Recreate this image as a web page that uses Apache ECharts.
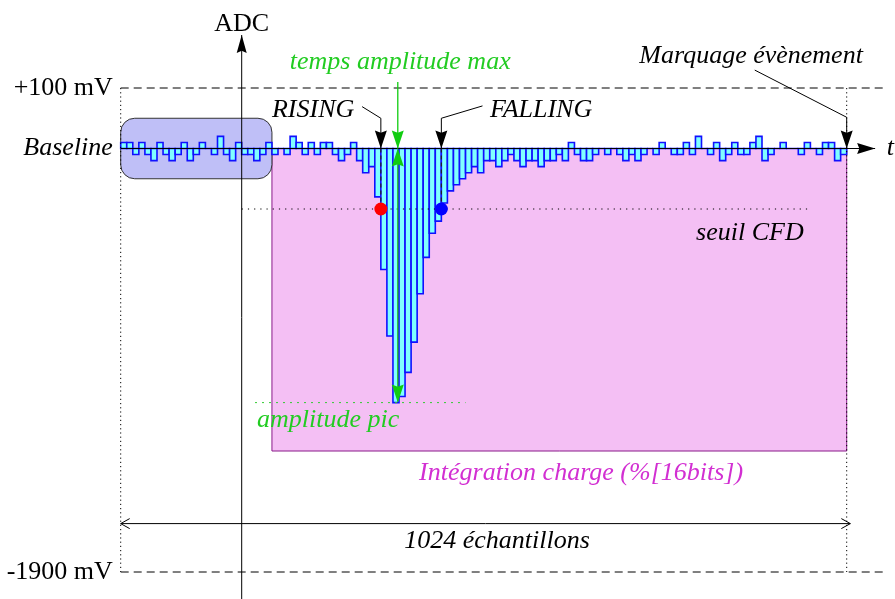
<!DOCTYPE html>
<html><head><meta charset="utf-8">
<script src="https://cdn.jsdelivr.net/npm/echarts@6/dist/echarts.min.js"></script>
<style>html,body{margin:0;padding:0;background:#fff}#c{width:895px;height:599px}</style>
</head><body><div id="c"></div>
<script>
// ---- data ----
const baselineMv = -150;            // baseline level (mV)
const stepMv = 25;                  // ADC step (mV)
const binCount = 120;               // bins drawn across the 1024 samples
// deviation of each bin from the baseline, in ADC steps
const binSteps = [
  1,1,-1,1,-1,-2,1,-1,-2,-1,1,-2,-1,1,0,-1,2,-1,-2,1,-1,-1,-2,-1,
  1,-1,0,-1,2,1,-1,1,-1,1,1,-1,-2,-1,1,
  -2,-4,-3,-8,-20,-31,-42,-41,-37,-32,-24,-18,-14,-12,-9,-7,-6,-5,-4,-3,-4,
  -2,-2,-3,-2,-1,-2,-3,-2,-2,-3,-2,-2,-1,-2,1,-1,-2,-2,-1,0,-1,0,-1,-2,-1,-2,-1,0,-1,1,
  0,-1,-1,1,-1,2,0,-1,1,-2,-1,1,-1,-1,1,2,-2,-1,0,1,0,0,-1,1,0,-1,1,1,-2,-1
];
const rangeMv = [100, -1900];        // dashed range lines
const rangeLabels = ['+100 mV', '-1900 mV'];
const cfdThresholdMv = -400;
const risingBin = 43;
const fallingBin = 53;
const peakTimeBin = 45.8;
const peakMv = -1200;
const baselineWindow = [0, 25];      // bins used for baseline
const chargeWindow = [25, 120];      // bins integrated
const chargeFloorMv = -1400;
const adcAxisBin = 20;
const sampleLabel = '1024 échantillons';

const serif = '"Liberation Serif", "DejaVu Serif", serif';
const FS = 26;

const barData = binSteps.map((s, i) => [i, baselineMv + s * stepMv]);

function renderBar(params, api) {
  const i = api.value(0), v = api.value(1);
  const p0 = api.coord([i, baselineMv]);
  const p1 = api.coord([i + 1, v]);
  const y = Math.min(p0[1], p1[1]);
  return {
    type: 'rect',
    shape: { x: p0[0], y: y, width: p1[0] - p0[0], height: Math.abs(p1[1] - p0[1]) },
    style: { fill: '#80ffff', stroke: '#1010ff', lineWidth: 1.6 }
  };
}

function renderBack(params, api) {
  const c = (x, y) => api.coord([x, y]);
  const b0 = c(baselineWindow[0], baselineMv + 125), b1 = c(baselineWindow[1], baselineMv - 125);
  const q0 = c(chargeWindow[0], baselineMv), q1 = c(chargeWindow[1], chargeFloorMv);
  return { type: 'group', children: [
    { type: 'rect', shape: { x: q0[0], y: q0[1], width: q1[0] - q0[0], height: q1[1] - q0[1] },
      style: { fill: '#f4bff4', stroke: '#8a1a8a', lineWidth: 1 } },
    { type: 'rect', shape: { x: b0[0], y: b0[1], width: b1[0] - b0[0], height: b1[1] - b0[1], r: 14 },
      style: { fill: '#bfbff7', stroke: '#333', lineWidth: 1 } }
  ]};
}

function renderFront(params, api) {
  const c = (x, y) => api.coord([x, y]);
  const ch = [];
  const line = (pts, st) => ch.push({ type: 'polyline', shape: { points: pts.map(p => c(p[0], p[1])) },
    style: Object.assign({ fill: null, stroke: '#000', lineWidth: 1 }, st) });
  const head = (fromD, toD, color, L, W) => {
    L = L || 18; W = W || 6;
    const a = c(fromD[0], fromD[1]), b = c(toD[0], toD[1]);
    const dx = b[0] - a[0], dy = b[1] - a[1], len = Math.hypot(dx, dy);
    const ux = dx / len, uy = dy / len, px = -uy, py = ux;
    ch.push({ type: 'polygon', shape: { points: [
      b, [b[0] - ux * L + px * W, b[1] - uy * L + py * W],
      [b[0] - ux * L * 0.88, b[1] - uy * L * 0.88],
      [b[0] - ux * L - px * W, b[1] - uy * L - py * W]] }, style: { fill: color } });
  };
  const openHead = (fromD, toD) => {
    const a = c(fromD[0], fromD[1]), b = c(toD[0], toD[1]);
    const dx = b[0] - a[0], dy = b[1] - a[1], len = Math.hypot(dx, dy);
    const ux = dx / len, uy = dy / len, px = -uy, py = ux;
    ch.push({ type: 'polyline', shape: { points: [
      [b[0] - ux * 9 + px * 5, b[1] - uy * 9 + py * 5], b, [b[0] - ux * 9 - px * 5, b[1] - uy * 9 - py * 5]] },
      style: { fill: null, stroke: '#000', lineWidth: 1 } });
  };
  const text = (x, y, t, st) => { const p = c(x, y); ch.push({ type: 'text', x: p[0], y: p[1],
    style: Object.assign({ text: t, fontFamily: serif, fontSize: FS, fontStyle: 'italic', fill: '#000',
      align: 'center', verticalAlign: 'middle' }, st) }); };

  // range lines
  rangeMv.forEach((v, k) => {
    line([[0, v], [126, v]], { lineDash: [8, 5] });
    text(-1.3, v, rangeLabels[k], { align: 'right', fontStyle: 'normal' });
  });
  line([[0, rangeMv[0]], [0, rangeMv[1]]], { lineDash: [1.2, 3] });
  line([[binCount, rangeMv[0]], [binCount, rangeMv[1]]], { lineDash: [1.2, 3] });
  // time axis
  line([[0, baselineMv], [124.7, baselineMv]], { stroke: '#000' });
  head([0, baselineMv], [124.7, baselineMv], '#000', 18, 5.5);
  text(126.6, baselineMv, 't', { align: 'left' });
  text(-1.3, baselineMv, 'Baseline', { align: 'right' });
  // ADC axis
  line([[adcAxisBin, -2050], [adcAxisBin, 319]]);
  head([adcAxisBin, 0], [adcAxisBin, 319], '#000', 18, 5);
  text(adcAxisBin, 362, 'ADC', { fontStyle: 'normal' });
  // CFD threshold
  line([[adcAxisBin, cfdThresholdMv], [114, cfdThresholdMv]], { lineDash: [1.2, 5] });
  text(104, -499, 'seuil CFD');
  line([[risingBin, baselineMv], [risingBin, cfdThresholdMv]], { lineDash: [4, 3], stroke: '#222', lineWidth: 1.2 });
  line([[fallingBin, baselineMv], [fallingBin, cfdThresholdMv]], { lineDash: [4, 3], stroke: '#222', lineWidth: 1.2 });
  // green peak markers
  line([[22.2, peakMv], [57, peakMv]], { stroke: '#33cc33', lineDash: [2, 5] });
  line([[peakTimeBin, baselineMv - 5], [peakTimeBin, peakMv + 5]], { stroke: '#22bb22', lineWidth: 1.3 });
  head([peakTimeBin, peakMv], [peakTimeBin, baselineMv], '#11cc11', 18, 6);
  head([peakTimeBin, baselineMv], [peakTimeBin, peakMv], '#11cc11', 18, 6);
  line([[peakTimeBin, 125], [peakTimeBin, baselineMv]], { stroke: '#11cc11', lineWidth: 1.3 });
  head([peakTimeBin, 125], [peakTimeBin, baselineMv], '#11cc11', 18, 6);
  text(46.2, 207, 'temps amplitude max', { fill: '#22cc22' });
  text(34.3, -1272, 'amplitude pic', { fill: '#22cc22' });
  // rising / falling / event markers
  line([[39.9, 23], [risingBin, -25], [risingBin, baselineMv]]);
  head([risingBin, 0], [risingBin, baselineMv], '#000');
  text(31.8, 9, 'RISING');
  line([[59.8, 26], [fallingBin, -25], [fallingBin, baselineMv]]);
  head([fallingBin, 0], [fallingBin, baselineMv], '#000');
  text(69.5, 9, 'FALLING');
  line([[104.8, 174], [binCount, -21], [binCount, baselineMv]]);
  head([binCount, 0], [binCount, baselineMv], '#000');
  text(104.2, 232, 'Marquage évènement');
  // CFD crossing dots
  const r = c(risingBin, cfdThresholdMv), f = c(fallingBin, cfdThresholdMv);
  ch.push({ type: 'circle', shape: { cx: r[0], cy: r[1], r: 6.5 }, style: { fill: '#ff0000' } });
  ch.push({ type: 'circle', shape: { cx: f[0], cy: f[1], r: 6.5 }, style: { fill: '#0000ff' } });
  // charge & samples
  text(76.1, -1491, 'Intégration charge (%[16bits])', { fill: '#d22fd2' });
  line([[0, -1700], [120.6, -1700]]);
  openHead([120.6, -1700], [0, -1700]);
  openHead([0, -1700], [120.6, -1700]);
  text(62.2, -1772, sampleLabel);
  return { type: 'group', children: ch };
}

const chart = echarts.init(document.getElementById('c'), null, { renderer: 'canvas' });
chart.setOption({
  animation: false,
  backgroundColor: '#fff',
  grid: { left: 120.7, top: 88, width: 726, height: 484 },
  xAxis: { type: 'value', min: 0, max: binCount, show: false },
  yAxis: { type: 'value', min: rangeMv[1], max: rangeMv[0], show: false },
  series: [
    { type: 'custom', renderItem: renderBack, data: [[0, 0]], clip: false, z: 1, silent: true },
    { type: 'custom', renderItem: renderBar, data: barData, clip: false, z: 2, silent: true },
    { type: 'custom', renderItem: renderFront, data: [[0, 0]], clip: false, z: 3, silent: true }
  ]
});
</script></body></html>
